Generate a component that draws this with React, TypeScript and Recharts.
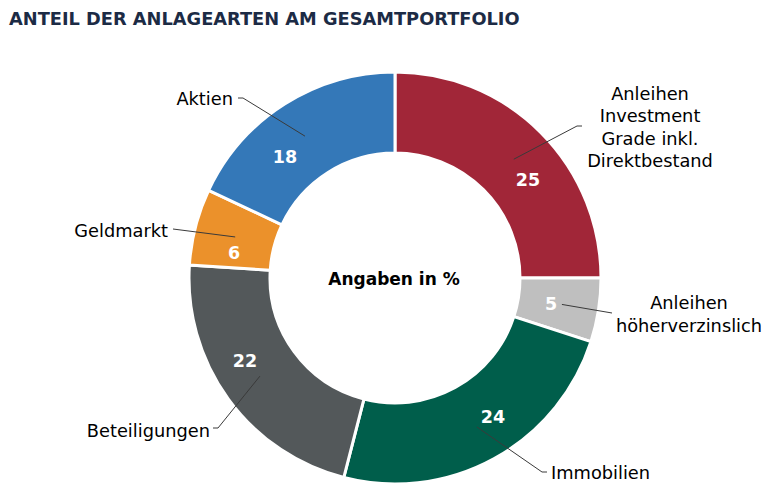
import React from 'react';
import { PieChart, Pie, Cell } from 'recharts';

const TITLE = 'ANTEIL DER ANLAGEARTEN AM GESAMTPORTFOLIO';
const CENTER_TEXT = 'Angaben in %';
const CATEGORIES = [
  'Anleihen Investment Grade inkl. Direktbestand',
  'Anleihen höherverzinslich',
  'Immobilien',
  'Beteiligungen',
  'Geldmarkt',
  'Aktien',
];
const VALUES = [25, 5, 24, 22, 6, 18];
const LABEL_LINES = [
  ['Anleihen', 'Investment', 'Grade inkl.', 'Direktbestand'],
  ['Anleihen', 'höherverzinslich'],
  ['Immobilien'],
  ['Beteiligungen'],
  ['Geldmarkt'],
  ['Aktien'],
];
const COLORS = ['#A12638', '#BFBFBF', '#005E4B', '#53585A', '#EB912B', '#3478B8'];

// label layout, offsets relative to the pie centre
type Lay = {
  val: [number, number];
  startR: number;
  elbow: [number, number];
  end: [number, number];
  text: [number, number];
  anchor: 'start' | 'middle' | 'end';
  lineGap: number;
};
const LAYOUT: Lay[] = [
  { val: [133, -98], startR: 168, elbow: [182, -152], end: [187, -152], text: [255, -185], anchor: 'middle', lineGap: 22.5 },
  { val: [156, 26], startR: 169, elbow: [217, 35], end: [217, 35], text: [294, 24], anchor: 'middle', lineGap: 23 },
  { val: [98, 139], startR: 170, elbow: [147, 194], end: [152, 194], text: [156, 194], anchor: 'start', lineGap: 0 },
  { val: [-150, 83], startR: 167, elbow: [-177, 150], end: [-182, 150], text: [-185, 152], anchor: 'end', lineGap: 0 },
  { val: [-161, -25], startR: 165, elbow: [-222, -49], end: [-222, -49], text: [-227, -48], anchor: 'end', lineGap: 0 },
  { val: [-110, -121], startR: 168, elbow: [-152, -180], end: [-157, -180], text: [-162, -180], anchor: 'end', lineGap: 0 },
];

const data = CATEGORIES.map((name, i) => ({ name, value: VALUES[i] }));

const FONT = "'DejaVu Sans', sans-serif";
const RAD = Math.PI / 180;

const renderLabel = (props: any) => {
  const { cx, cy, midAngle, index, value } = props;
  const lay = LAYOUT[index];
  const sx = cx + lay.startR * Math.cos(-midAngle * RAD);
  const sy = cy + lay.startR * Math.sin(-midAngle * RAD);
  const lines = LABEL_LINES[index];
  return (
    <g key={`lbl-${index}`}>
      <polyline
        points={`${sx},${sy} ${cx + lay.elbow[0]},${cy + lay.elbow[1]} ${cx + lay.end[0]},${cy + lay.end[1]}`}
        fill="none"
        stroke="#3a3a3a"
        strokeWidth={1}
      />
      <text
        x={cx + lay.val[0]}
        y={cy + lay.val[1]}
        textAnchor="middle"
        dominantBaseline="central"
        fill="#ffffff"
        fontFamily={FONT}
        fontWeight="bold"
        fontSize={17.5}
      >
        {value}
      </text>
      {lines.map((ln, j) => (
        <text
          key={j}
          x={cx + lay.text[0]}
          y={cy + lay.text[1] + j * lay.lineGap}
          textAnchor={lay.anchor}
          dominantBaseline="central"
          fill="#000000"
          fontFamily={FONT}
          fontSize={17.8}
        >
          {ln}
        </text>
      ))}
    </g>
  );
};

export default function App() {
  return (
    <div style={{ position: 'absolute', left: 0, top: 0, width: 770, height: 500, background: '#fff' }}>
      <PieChart width={770} height={500} margin={{ top: 0, right: 0, bottom: 0, left: 0 }}>
        <Pie
          data={data}
          dataKey="value"
          nameKey="name"
          cx={395}
          cy={278}
          innerRadius={125}
          outerRadius={206}
          startAngle={90}
          endAngle={-270}
          stroke="#ffffff"
          strokeWidth={3}
          label={renderLabel}
          labelLine={false}
          isAnimationActive={false}
        >
          {data.map((d, i) => (
            <Cell key={d.name} fill={COLORS[i]} />
          ))}
        </Pie>
      </PieChart>
      <svg
        width={770}
        height={500}
        style={{ position: 'absolute', left: 0, top: 0, pointerEvents: 'none' }}
      >
        <text x={9} y={24.5} fill="#1C2B45" fontFamily={FONT} fontWeight="bold" fontSize={17.8}>
          {TITLE}
        </text>
        <text
          x={394}
          y={279}
          textAnchor="middle"
          dominantBaseline="central"
          fill="#000"
          fontFamily={FONT}
          fontWeight="bold"
          fontSize={17}
        >
          {CENTER_TEXT}
        </text>
      </svg>
    </div>
  );
}
